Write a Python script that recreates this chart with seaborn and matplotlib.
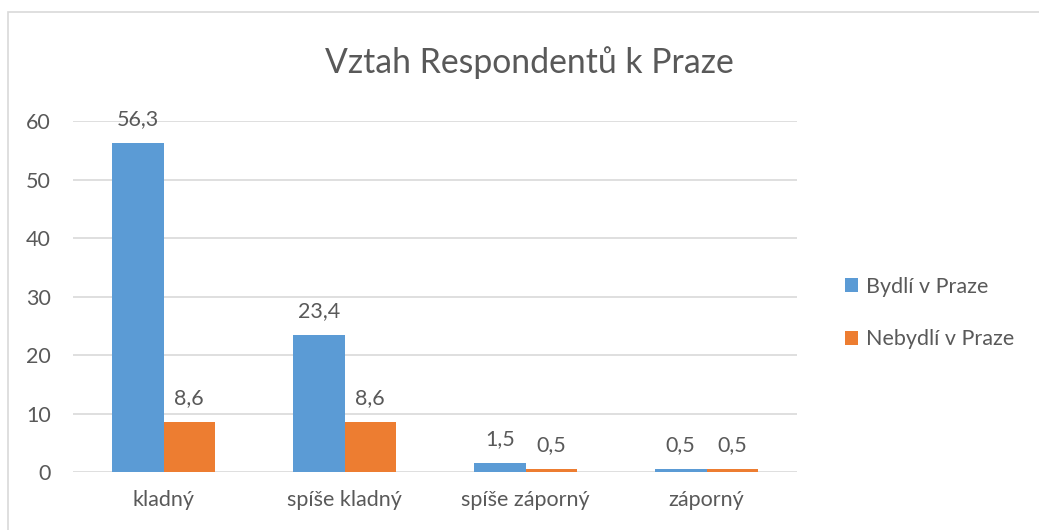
import pandas as pd
import seaborn as sns
import matplotlib.pyplot as plt
from matplotlib.patches import Rectangle

categories = ["kladný", "spíše kladný", "spíše záporný", "záporný"]
series = ["Bydlí v Praze", "Nebydlí v Praze"]
bydli = [56.3, 23.4, 1.5, 0.5]
nebydli = [8.6, 8.6, 0.5, 0.5]

df = pd.DataFrame({
    "kategorie": categories * 2,
    "skupina": [series[0]] * 4 + [series[1]] * 4,
    "hodnota": bydli + nebydli,
})

sns.set_style("white")
plt.rcParams["font.family"] = ["Lato", "DejaVu Sans"]
TXT = "#595959"

fig = plt.figure(figsize=(10.39, 5.30), dpi=100)
W, H = 1039, 530
# plot area in pixels: x 73..797, y 121..472
ax = fig.add_axes([73 / W, 1 - 472 / H, (797 - 73) / W, (472 - 121) / H])

sns.barplot(data=df, x="kategorie", y="hodnota", hue="skupina",
            palette=["#5B9BD5", "#ED7D31"], width=0.57, gap=0,
            saturation=1, linewidth=0, ax=ax, legend=True)

for cont in ax.containers:
    ax.bar_label(cont, labels=[f"{v:.1f}".replace(".", ",") for v in cont.datavalues],
                 padding=10, fontsize=15.5, color=TXT)

ax.set_ylim(0, 60)
ax.set_yticks(range(0, 61, 10))
ax.yaxis.grid(True, color="#D9D9D9", linewidth=1.2)
ax.set_axisbelow(True)
for s in ax.spines.values():
    s.set_visible(False)
ax.set_xlabel("")
ax.set_ylabel("")
ax.tick_params(axis="y", length=0, pad=16, labelsize=15.5, labelcolor=TXT)
ax.tick_params(axis="x", length=0, pad=13, labelsize=15.5, labelcolor=TXT)

leg = ax.legend(loc="center left", bbox_to_anchor=(845 / W, 1 - 313 / H),
                bbox_transform=fig.transFigure, frameon=False, fontsize=15.5,
                labelcolor=TXT, handlelength=0.62, handleheight=0.62,
                handletextpad=0.35, labelspacing=1.5, borderaxespad=0, borderpad=0)

fig.text(529 / W, 1 - 63 / H, "Vztah Respondentů k Praze", ha="center", va="center",
         fontsize=24.3, color=TXT)

fig.patches.append(Rectangle((8 / W, -0.1), 1.2, 1 - 12 / H + 0.1,
                             transform=fig.transFigure, fill=False,
                             edgecolor="#D9D9D9", linewidth=1.2))

fig.savefig("out.png", dpi=100)
